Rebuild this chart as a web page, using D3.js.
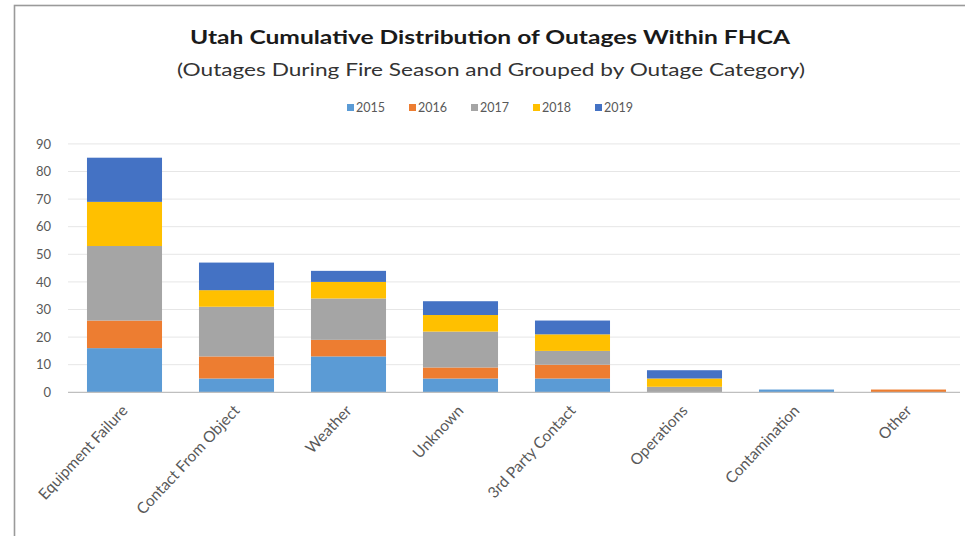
<!DOCTYPE html>
<html><head><meta charset="utf-8">
<script src="https://cdn.jsdelivr.net/npm/d3@7"></script>
<style>body{margin:0;background:#fff}svg{display:block}text{font-family:Lato,"Open Sans",sans-serif}</style>
</head><body><svg id="c" width="965" height="536"></svg>
<script>
const categories = ["Equipment Failure","Contact From Object","Weather","Unknown","3rd Party Contact","Operations","Contamination","Other"];
const years = ["2015","2016","2017","2018","2019"];
const v2015 = [16,5,13,5,5,0,1,0];
const v2016 = [10,8,6,4,5,0,0,1];
const v2017 = [27,18,15,13,5,2,0,0];
const v2018 = [16,6,6,6,6,3,0,0];
const v2019 = [16,10,4,5,5,3,0,0];
const yTicks = [0,10,20,30,40,50,60,70,80,90];
const colors = ["#5B9BD5","#ED7D31","#A5A5A5","#FFC000","#4472C4"];

const seriesVals = [v2015,v2016,v2017,v2018,v2019];
const rows = categories.map((c,i)=>{const o={cat:c};years.forEach((y,j)=>o[y]=seriesVals[j][i]);return o;});
const stacked = d3.stack().keys(years)(rows);

const svg = d3.select("#c");
svg.append("rect").attr("x",14.5).attr("y",5.5).attr("width",1000).attr("height",600)
  .attr("fill","#fff").attr("stroke","#9a9a9a").attr("stroke-width",1.6);

const x = d3.scaleBand().domain(categories).range([68.5,964.5]).paddingInner(0.33).paddingOuter(0.165);
const y = d3.scaleLinear().domain([0,90]).range([392.3,143.9]);
const color = d3.scaleOrdinal().domain(years).range(colors);

// gridlines
svg.append("g").selectAll("line").data(yTicks.filter(d=>d>0)).join("line")
  .attr("x1",68).attr("x2",960).attr("y1",d=>y(d)).attr("y2",d=>y(d))
  .attr("stroke","#e6e6e6").attr("stroke-width",1);

// y axis labels
const yAxis = d3.axisLeft(y).tickValues(yTicks).tickSize(0).tickPadding(0);
const ya = svg.append("g").attr("transform","translate(51,0)").call(yAxis);
ya.select(".domain").remove();
ya.selectAll("text").attr("fill","#595959").style("font-size","13px").style("font-family","Lato,'Open Sans',sans-serif");

// bars
svg.append("g").selectAll("g").data(stacked).join("g").attr("fill",d=>color(d.key))
  .selectAll("rect").data(d=>d).join("rect")
  .attr("x",d=>x(d.data.cat)).attr("width",x.bandwidth())
  .attr("y",d=>y(d[1])).attr("height",d=>y(d[0])-y(d[1]));

// baseline
svg.append("line").attr("x1",68).attr("x2",960).attr("y1",y(0)).attr("y2",y(0)).attr("stroke","#bfbfbf").attr("stroke-width",1.2);

// x axis labels
const xAxis = d3.axisBottom(x).tickSize(0).tickPadding(0);
const xa = svg.append("g").attr("transform",`translate(0,${y(0)})`).call(xAxis);
xa.select(".domain").remove();
xa.selectAll("text")
  .attr("text-anchor","end").attr("dy","0").attr("y",0)
  .attr("transform","translate(4,19) rotate(-47)")
  .attr("fill","#595959").style("font-size","15.5px").style("font-family","Lato,'Open Sans',sans-serif");

// titles
svg.append("text").attr("x",490).attr("y",44).attr("text-anchor","middle")
  .attr("font-weight","bold").attr("font-size","19px").attr("fill","#1a1a1a")
  .attr("textLength",600).attr("lengthAdjust","spacingAndGlyphs")
  .text("Utah Cumulative Distribution of Outages Within FHCA");
svg.append("text").attr("x",491).attr("y",76).attr("text-anchor","middle")
  .attr("font-size","16.5px").attr("fill","#333")
  .attr("textLength",628).attr("lengthAdjust","spacingAndGlyphs")
  .text("(Outages During Fire Season and Grouped by Outage Category)");

// legend
const lg = svg.append("g").attr("transform","translate(347,108)");
years.forEach((yr,i)=>{
  const g = lg.append("g").attr("transform",`translate(${i*62},0)`);
  g.append("rect").attr("x",0).attr("y",-4).attr("width",7).attr("height",7).attr("fill",colors[i]);
  g.append("text").attr("x",9).attr("y",4).attr("font-size","12.5px").attr("fill","#595959").text(yr);
});
</script></body></html>
